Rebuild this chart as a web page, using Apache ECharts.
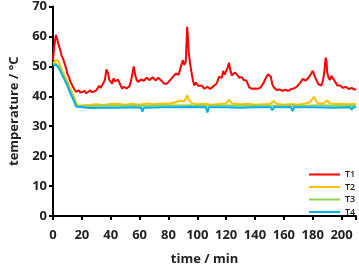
<!DOCTYPE html>
<html><head><meta charset="utf-8">
<script src="https://cdn.jsdelivr.net/npm/echarts@6/dist/echarts.min.js"></script>
<style>html,body{margin:0;padding:0;background:#fff}#c{width:359px;height:271px}</style>
</head><body><div id="c"></div>
<script>
const seriesNames = ['T1','T2','T3','T4'];
const xTicks = [0,20,40,60,80,100,120,140,160,180,200];
const yTicks = [0,10,20,30,40,50,60,70];
const T1 = [[0,52],[1,57],[2,60.5],[3,59],[4,57],[5,55.5],[6,53.5],[7,52.5],[8,51],[9,49.5],[10,47.5],[11,46.5],[12,45],[13,44],[14,43],[15,42.2],[16,41.5],[18,42],[19,41.2],[20,41],[22,41.8],[23,41],[24,41.4],[26,42],[27,41.3],[28,41.5],[30,42],[31,41.6],[32,43.5],[33,42.8],[34,43.2],[35,44.5],[36,45.5],[37,49],[38,48],[39,45.5],[40,45.2],[41,44.2],[42,46],[43,45],[44,44.5],[45,45.6],[46,45],[47,43.5],[48,42.5],[49,43.2],[50,43.5],[51,42.6],[52,42.5],[53,43.4],[54,45],[55,47.5],[56,50],[57,47],[58,45.5],[59,44.8],[60,45],[61,45.6],[62,46.2],[63,45.2],[64,45.2],[65,46.2],[66,46.5],[67,45.4],[68,45.5],[69,46.4],[70,46],[71,45.3],[72,45.2],[73,46.2],[74,46],[75,45.3],[76,45],[77,44.2],[78,43.6],[79,44.2],[80,44.5],[81,45.3],[82,45.5],[83,46.4],[84,47],[85,47.6],[86,48],[87,47.2],[88,47.5],[89,50.5],[90,52],[91,50.5],[92,51.5],[93,63.2],[93.6,59],[94,55],[95,51],[96,48],[97,45.2],[98,43.6],[99,44.6],[100,44.5],[101,43.4],[102,43],[103,43.6],[104,43],[105,42.5],[106,42.5],[107,43.2],[108,43],[109,42.4],[110,42.5],[111,43.3],[112,43.2],[113,44],[114,45],[115,46.5],[116,47],[117,46.2],[118,48.5],[119,47.2],[120,47.5],[121,49.5],[122,51.2],[123,48.5],[124,47],[125,46.6],[126,48],[127,47.4],[128,47],[129,46.2],[130,46],[131,46.4],[132,45.5],[133,45.8],[134,45.2],[135,44.2],[136,43],[137,42.6],[138,42.5],[139,42.8],[140,42.6],[141,42.3],[142,42.5],[143,42.9],[144,43],[145,43.8],[146,44.5],[147,45.6],[148,46],[149,47.4],[150,47.5],[151,46.5],[152,44],[153,43],[154,42.5],[155,42.1],[156,42],[157,42.3],[158,42],[159,41.8],[160,41.8],[161,42.2],[162,42],[163,41.8],[164,42],[165,42.4],[166,42.3],[167,42.6],[168,43],[169,43.2],[170,43.5],[171,44.3],[172,45],[173,45.8],[174,45.8],[175,45.2],[176,45.5],[177,46.2],[178,46.5],[179,47.6],[180,48.5],[181,47.2],[182,46],[183,45],[184,44],[185,43.6],[186,43.6],[187,45],[188,48],[189,52.9],[189.6,51.5],[190,48],[191,46.2],[192,45.5],[193,46.8],[194,46.4],[195,45.3],[196,44.5],[197,43.6],[198,43],[199,43.6],[200,43.5],[201,42.8],[202,42.5],[203,43.2],[204,43],[205,42.4],[206,42.3],[207,42.8],[208,42.5],[209,42.2],[210,42.5]];
const T2 = [[0,51],[2,52.2],[4,51.5],[6,49],[8,47],[10,45],[12,42.5],[14,40.5],[16,38],[17,37],[20,36.9],[25,37.1],[30,37.3],[35,37.1],[40,37.4],[45,37.5],[50,37.2],[55,37.5],[60,37.2],[65,37.6],[70,37.3],[75,37.6],[80,37.5],[85,38],[88,38.5],[91,38.3],[93,40.3],[94,39],[96,37.8],[100,37.3],[105,37.5],[110,37.2],[115,37.4],[120,37.6],[122,38.8],[124,37.6],[130,37.3],[135,37.5],[140,37.2],[145,37.3],[150,37.4],[153,38.4],[155,37.5],[160,37.2],[165,37.4],[170,37.2],[175,37.6],[178,38],[181,39.8],[183,37.8],[187,37.5],[190,38.6],[192,37.6],[196,37.4],[200,37.5],[205,37.3],[210,37.4]];
const T3 = [[0,50.6],[2,51],[4,50],[6,48],[8,46],[10,44],[12,41.5],[14,39.5],[16,37.5],[17,36.8],[25,36.7],[35,36.9],[45,36.8],[55,36.9],[65,36.8],[75,37],[85,36.9],[95,37],[105,36.8],[115,36.9],[125,36.9],[135,36.8],[145,36.9],[155,36.8],[165,36.9],[175,36.8],[185,37],[195,36.8],[205,36.9],[210,36.8]];
const T4 = [[0,50.2],[2,50.5],[4,49.5],[6,47.5],[8,45.5],[10,43.5],[12,41],[14,39],[16,36.6],[17,36],[25,36.1],[35,36.2],[45,36.2],[55,36.3],[61,36.2],[62,34.9],[63,36.2],[75,36.3],[85,36.3],[95,36.4],[106,36.3],[107,34.6],[108,36.3],[120,36.3],[130,36.2],[140,36.3],[151,36.3],[152,35.3],[153,36.3],[165,36.3],[166,35],[167,36.3],[180,36.3],[195,36.2],[206,36.3],[207,35.5],[208,36.3],[210,36.3]];
const colors = ['#FF0000','#FFC000','#92D050','#00B0F0'];
const data = [T1,T2,T3,T4];
const chart = echarts.init(document.getElementById('c'), null, {renderer:'canvas'});
const font = 'Open Sans';
chart.setOption({
  animation:false,
  grid:{left:49,right:2,top:6,bottom:51,containLabel:false},
  legend:{
    orient:'vertical', left:304, top:164, itemWidth:31, itemHeight:2, itemGap:1.5, icon:'rect',
    textStyle:{fontSize:9, fontFamily:font, color:'#222', fontWeight:600, lineHeight:11},
    data:seriesNames
  },
  xAxis:{type:'value',min:0,max:210,interval:20,
    name:'time / min',nameLocation:'middle',nameGap:37,
    nameTextStyle:{fontSize:13,fontWeight:'bold',fontFamily:font,color:'#222'},
    axisLine:{lineStyle:{color:'#000',width:2}},
    axisTick:{show:true,length:4,lineStyle:{color:'#000',width:2}},
    axisLabel:{fontSize:13,fontWeight:'bold',fontFamily:font,color:'#222',margin:13,
      formatter:v=>xTicks.includes(v)?String(v):''},
    splitLine:{show:false}},
  yAxis:{type:'value',min:0,max:70,interval:10,
    name:'temperature / °C',nameLocation:'middle',nameGap:32,
    nameTextStyle:{fontSize:13,fontWeight:'bold',fontFamily:font,color:'#222'},
    axisLine:{show:true,lineStyle:{color:'#000',width:2}},
    axisTick:{show:true,length:4,lineStyle:{color:'#000',width:2}},
    axisLabel:{fontSize:13,fontWeight:'bold',fontFamily:font,color:'#222',margin:6,
      formatter:v=>yTicks.includes(v)?String(v):''},
    splitLine:{show:false}},
  series:seriesNames.map((n,i)=>({name:n,type:'line',data:data[i],showSymbol:false,symbol:'none',
    lineStyle:{color:colors[i],width:2},itemStyle:{color:colors[i]}}))
});
</script></body></html>
